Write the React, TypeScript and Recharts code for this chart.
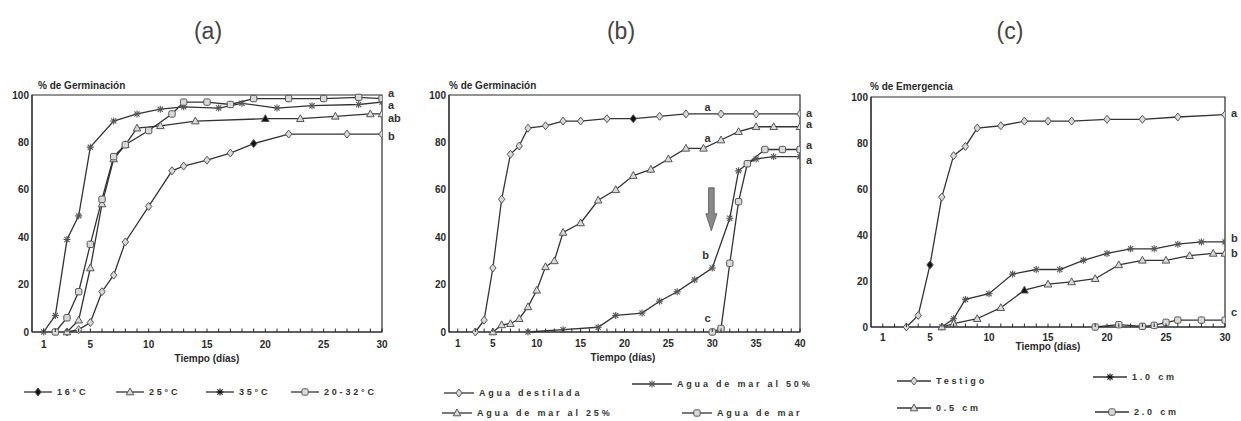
import React from 'react';
import { LineChart, Line, XAxis, YAxis, ReferenceArea, ReferenceDot } from 'recharts';

type Shape = 'diamond' | 'triangle' | 'star' | 'square';

// (a) temperatura
const daysA16 = [3, 4, 5, 6, 7, 8, 10, 12, 13, 15, 17, 19, 22, 27, 30];
const valsA16 = [0, 1, 4, 17, 24, 38, 53, 68, 70, 72.5, 75.5, 79.5, 83.5, 83.5, 83.5];
const daysA25 = [3, 4, 5, 6, 7, 8, 9, 11, 14, 20, 23, 26, 29, 30];
const valsA25 = [0, 5, 27, 54, 73, 79, 86, 87, 89, 90, 90, 91, 92, 92];
const daysA35 = [1, 2, 3, 4, 5, 7, 9, 11, 13, 16, 18, 21, 24, 28, 30];
const valsA35 = [0, 7, 39, 49, 78, 89, 92, 94, 95, 94.5, 96.5, 94.5, 95.5, 96, 97];
const daysA2032 = [2, 3, 4, 5, 6, 7, 8, 10, 12, 13, 15, 17, 19, 22, 25, 28, 30];
const valsA2032 = [0, 6, 17, 37, 56, 74, 79, 85, 92, 97, 97, 96, 98.5, 98.5, 98.5, 99, 98.5];

// (b) salinidad
const daysBDest = [3, 4, 5, 6, 7, 8, 9, 11, 13, 15, 18, 21, 24, 27, 31, 35, 40];
const valsBDest = [0, 5, 27, 56, 75, 78.5, 86, 87, 89, 89, 90, 90, 91, 92, 92, 92, 92];
const daysB25 = [5, 6, 7, 8, 9, 10, 11, 12, 13, 15, 17, 19, 21, 23, 25, 27, 29, 31, 33, 35, 37, 40];
const valsB25 = [0, 3, 3.5, 5.6, 10.6, 17.6, 27.5, 30, 42, 46, 55.6, 60, 66, 68.6, 73, 77.5, 77.5, 81, 84.5, 86.6, 86.6, 86.6];
const daysB50 = [9, 13, 17, 19, 22, 24, 26, 28, 30, 32, 33, 34, 35, 37, 40];
const valsB50 = [0, 1, 2, 7, 8, 13, 17, 22, 27, 48, 68, 71, 73, 74, 74];
const daysBMar = [30, 31, 32, 33, 34, 36, 38, 40];
const valsBMar = [0, 1.5, 29, 55, 71, 77, 77, 77];

// (c) profundidad de siembra
const daysCTest = [3, 4, 5, 6, 7, 8, 9, 11, 13, 15, 17, 20, 23, 26, 30];
const valsCTest = [0, 5, 27, 56.5, 74.5, 78.5, 86.5, 87.5, 89.5, 89.5, 89.5, 90.3, 90.3, 91.3, 92.3];
const daysC10 = [6, 7, 8, 10, 12, 14, 16, 18, 20, 22, 24, 26, 28, 30];
const valsC10 = [0, 3.6, 12, 14.5, 23, 25, 25, 29, 32, 34, 34, 36, 37, 37];
const daysC05 = [6, 7, 9, 11, 13, 15, 17, 19, 21, 23, 25, 27, 29, 30];
const valsC05 = [0, 1.5, 3.6, 8.4, 16, 18.6, 19.6, 21, 27, 29, 29, 31, 32, 32];
const daysC20 = [19, 21, 23, 24, 25, 26, 28, 30];
const valsC20 = [0, 1, 0.3, 0.7, 2, 3, 3, 3];

const yTicks = [0, 20, 40, 60, 80, 100];
const xLabels30 = [1, 5, 10, 15, 20, 25, 30];
const xLabels40 = [1, 5, 10, 15, 20, 25, 30, 35, 40];

type Series = { name: string; days: number[]; values: number[]; shape: Shape; filledDay?: number };
type Note = { x: number; y: number; text: string; dx?: number };

const seriesA: Series[] = [
  { name: '16°C', days: daysA16, values: valsA16, shape: 'diamond', filledDay: 19 },
  { name: '25°C', days: daysA25, values: valsA25, shape: 'triangle', filledDay: 20 },
  { name: '35°C', days: daysA35, values: valsA35, shape: 'star' },
  { name: '20-32°C', days: daysA2032, values: valsA2032, shape: 'square' },
];
const seriesB: Series[] = [
  { name: 'Agua destilada', days: daysBDest, values: valsBDest, shape: 'diamond', filledDay: 21 },
  { name: 'Agua de mar al 25%', days: daysB25, values: valsB25, shape: 'triangle' },
  { name: 'Agua de mar al 50%', days: daysB50, values: valsB50, shape: 'star' },
  { name: 'Agua de mar', days: daysBMar, values: valsBMar, shape: 'square' },
];
const seriesC: Series[] = [
  { name: 'Testigo', days: daysCTest, values: valsCTest, shape: 'diamond', filledDay: 5 },
  { name: '1.0 cm', days: daysC10, values: valsC10, shape: 'star' },
  { name: '0.5 cm', days: daysC05, values: valsC05, shape: 'triangle', filledDay: 13 },
  { name: '2.0 cm', days: daysC20, values: valsC20, shape: 'square' },
];

const notesA: Note[] = [
  { x: 30, y: 100.8, text: 'a' },
  { x: 30, y: 95.8, text: 'a' },
  { x: 30, y: 90.3, text: 'ab' },
  { x: 30, y: 82.7, text: 'b' },
];
const notesB: Note[] = [
  { x: 40, y: 92.4, text: 'a' },
  { x: 40, y: 87.8, text: 'a' },
  { x: 40, y: 79, text: 'a' },
  { x: 40, y: 72.6, text: 'a' },
  { x: 29.8, y: 95, text: 'a', dx: -3 },
  { x: 29.8, y: 82, text: 'a', dx: -3 },
  { x: 29.6, y: 32.5, text: 'b', dx: -3 },
  { x: 29.8, y: 6, text: 'c', dx: -3 },
];
const notesC: Note[] = [
  { x: 30, y: 93, text: 'a' },
  { x: 30, y: 38.7, text: 'b' },
  { x: 30, y: 32, text: 'b' },
  { x: 30, y: 6.5, text: 'c' },
];

const FONT = '"Liberation Sans", Arial, sans-serif';
const INK = '#2a2a2a';

function Marker({ cx, cy, shape, filled }: { cx: number; cy: number; shape: Shape; filled?: boolean }) {
  const stroke = '#555';
  const fill = filled ? '#111' : '#d9d9d9';
  if (shape === 'diamond')
    return <polygon points={`${cx},${cy - 4} ${cx + 3.2},${cy} ${cx},${cy + 4} ${cx - 3.2},${cy}`} fill={fill} stroke={stroke} strokeWidth={1} />;
  if (shape === 'triangle')
    return <polygon points={`${cx},${cy - 4} ${cx + 3.8},${cy + 2.8} ${cx - 3.8},${cy + 2.8}`} fill={fill} stroke={stroke} strokeWidth={1} />;
  if (shape === 'square')
    return <rect x={cx - 3.2} y={cy - 3.2} width={6.4} height={6.4} rx={1.6} fill={fill} stroke={stroke} strokeWidth={1} />;
  return (
    <g stroke={filled ? '#111' : '#555'} strokeWidth={1.1}>
      <line x1={cx - 3.5} y1={cy} x2={cx + 3.5} y2={cy} />
      <line x1={cx} y1={cy - 3.5} x2={cx} y2={cy + 3.5} />
      <line x1={cx - 2.6} y1={cy - 2.6} x2={cx + 2.6} y2={cy + 2.6} />
      <line x1={cx - 2.6} y1={cy + 2.6} x2={cx + 2.6} y2={cy - 2.6} />
    </g>
  );
}

const makeXTick = (labels: number[], drop: number) => (props: any) => {
  const { x, y, payload } = props;
  const show = labels.includes(payload.value);
  return (
    <g>
      <line x1={x} x2={x} y1={y} y2={y - 3.5} stroke={INK} strokeWidth={1} />
      {show && (
        <text x={x} y={y + drop} textAnchor="middle" fontFamily={FONT} fontWeight="bold" fontSize={10} fill={INK}>
          {payload.value}
        </text>
      )}
    </g>
  );
};

const CHART_TOP = 60;
const CHART_H = 320;
const Y_W = 26;
const X_H = 30;

type PanelProps = {
  left: number;
  width: number;
  plot: { l: number; r: number; t: number; b: number };
  xMax: number;
  xLabels: number[];
  labelDrop: number;
  series: Series[];
  notes: Note[];
  arrow?: { x: number; y: number };
};

function Panel({ left, width, plot, xMax, xLabels, labelDrop, series, notes, arrow }: PanelProps) {
  const ticks = Array.from({ length: xMax }, (_, i) => i + 1);
  const margin = {
    left: plot.l - left - Y_W,
    right: left + width - plot.r,
    top: plot.t - CHART_TOP,
    bottom: CHART_TOP + CHART_H - plot.b - X_H,
  };
  return (
    <div style={{ position: 'absolute', left, top: CHART_TOP }}>
      <LineChart width={width} height={CHART_H} margin={margin}>
        <XAxis
          type="number"
          dataKey="day"
          domain={[0, xMax]}
          ticks={ticks}
          interval={0}
          tickLine={false}
          tickSize={0}
          tickMargin={0}
          height={X_H}
          axisLine={{ stroke: INK }}
          tick={makeXTick(xLabels, labelDrop)}
          allowDataOverflow
        />
        <YAxis
          type="number"
          dataKey="v"
          domain={[0, 100]}
          ticks={yTicks}
          width={Y_W}
          tickLine={false}
          tickSize={0}
          tickMargin={3}
          axisLine={{ stroke: INK }}
          tick={{ fontFamily: FONT, fontWeight: 'bold', fontSize: 10, fill: INK }}
        />
        <ReferenceArea x1={0} x2={xMax} y1={0} y2={100} fill="none" fillOpacity={0} stroke={INK} strokeWidth={1.2} />
        {series.map((s) => (
          <Line
            key={s.name}
            data={s.days.map((d, i) => ({ day: d, v: s.values[i] }))}
            dataKey="v"
            stroke="#333"
            strokeWidth={1.3}
            isAnimationActive={false}
            dot={(p: any) => (
              <Marker key={`${s.name}-${p.index}`} cx={p.cx} cy={p.cy} shape={s.shape} filled={p.payload.day === s.filledDay} />
            )}
            activeDot={false}
          />
        ))}
        {notes.map((n, i) => (
          <ReferenceDot
            key={`n${i}`}
            x={n.x}
            y={n.y}
            ifOverflow="visible"
            shape={(p: any) => (
              <text
                x={p.cx + (n.dx ?? 6)}
                y={p.cy}
                dominantBaseline="central"
                textAnchor={n.dx !== undefined && n.dx < 0 ? 'middle' : 'start'}
                fontFamily={FONT}
                fontWeight="bold"
                fontSize={11}
                fill="#333"
              >
                {n.text}
              </text>
            )}
          />
        ))}
        {arrow && (
          <ReferenceDot
            x={arrow.x}
            y={arrow.y}
            ifOverflow="visible"
            shape={(p: any) => (
              <polygon
                points={`${p.cx - 2.8},${p.cy - 21} ${p.cx + 2.8},${p.cy - 21} ${p.cx + 2.8},${p.cy + 5} ${p.cx + 5.5},${p.cy + 5} ${p.cx},${p.cy + 22} ${p.cx - 5.5},${p.cy + 5} ${p.cx - 2.8},${p.cy + 5}`}
                fill="#8a8a8a"
                stroke="#555"
                strokeWidth={0.8}
              />
            )}
          />
        )}
      </LineChart>
    </div>
  );
}

function LegendItem({ x, y, shape, label, filled, w = 28 }: { x: number; y: number; shape: Shape; label: string; filled?: boolean; w?: number }) {
  return (
    <div style={{ position: 'absolute', left: x, top: y - 7, height: 14, display: 'flex', alignItems: 'center', whiteSpace: 'nowrap' }}>
      <svg width={w} height={14}>
        <line x1={0} x2={w} y1={7} y2={7} stroke="#333" strokeWidth={1.3} />
        <Marker cx={w / 2} cy={7} shape={shape} filled={filled} />
      </svg>
      <span style={{ marginLeft: 5, fontFamily: FONT, fontWeight: 'bold', fontSize: 9, letterSpacing: 2.8, color: '#333' }}>{label}</span>
    </div>
  );
}

const txt = (extra: React.CSSProperties): React.CSSProperties => ({
  position: 'absolute',
  fontFamily: FONT,
  fontWeight: 'bold',
  fontSize: 10,
  color: INK,
  whiteSpace: 'nowrap',
  ...extra,
});

const panelTitle = (x: number): React.CSSProperties => ({
  position: 'absolute',
  left: x - 30,
  width: 60,
  top: 18,
  textAlign: 'center',
  fontFamily: FONT,
  fontSize: 23,
  color: '#444',
});

export default function App() {
  return (
    <div style={{ position: 'absolute', left: 0, top: 0, width: 1241, height: 421, background: '#fff', overflow: 'hidden' }}>
      <div style={panelTitle(208)}>(a)</div>
      <div style={panelTitle(621)}>(b)</div>
      <div style={panelTitle(1010)}>(c)</div>

      <Panel left={0} width={420} plot={{ l: 32, r: 382, t: 95, b: 332 }} xMax={30} xLabels={xLabels30} labelDrop={15.5} series={seriesA} notes={notesA} />
      <Panel left={420} width={410} plot={{ l: 449, r: 800, t: 95, b: 332 }} xMax={40} xLabels={xLabels40} labelDrop={15} series={seriesB} notes={notesB} arrow={{ x: 29.9, y: 52 }} />
      <Panel left={830} width={411} plot={{ l: 871, r: 1225, t: 97, b: 327 }} xMax={30} xLabels={xLabels30} labelDrop={14} series={seriesC} notes={notesC} />

      <div style={txt({ left: 38, top: 80 })}>% de Germinación</div>
      <div style={txt({ left: 449, top: 80 })}>% de Germinación</div>
      <div style={txt({ left: 870, top: 81 })}>% de Emergencia</div>

      <div style={txt({ left: 157, top: 353, width: 100, textAlign: 'center' })}>Tiempo (días)</div>
      <div style={txt({ left: 573, top: 352, width: 100, textAlign: 'center' })}>Tiempo (días)</div>
      <div style={txt({ left: 998, top: 341, width: 100, textAlign: 'center' })}>Tiempo (días)</div>

      <LegendItem x={24} y={392} shape="diamond" label="16°C" filled />
      <LegendItem x={116} y={392} shape="triangle" label="25°C" />
      <LegendItem x={206} y={392} shape="star" label="35°C" filled />
      <LegendItem x={291} y={392} shape="square" label="20-32°C" />

      <LegendItem x={444} y={393} shape="diamond" label="Agua destilada" w={30} />
      <LegendItem x={632} y={384} shape="star" label="Agua de mar al 50%" w={40} />
      <LegendItem x={442} y={413} shape="triangle" label="Agua de mar al 25%" w={30} />
      <LegendItem x={682} y={413} shape="square" label="Agua de mar" w={30} />

      <LegendItem x={897} y={381} shape="diamond" label="Testigo" w={34} />
      <LegendItem x={1093} y={377} shape="star" label="1.0 cm" w={34} filled />
      <LegendItem x={897} y={408} shape="triangle" label="0.5 cm" w={34} />
      <LegendItem x={1095} y={412} shape="square" label="2.0 cm" w={34} />
    </div>
  );
}
